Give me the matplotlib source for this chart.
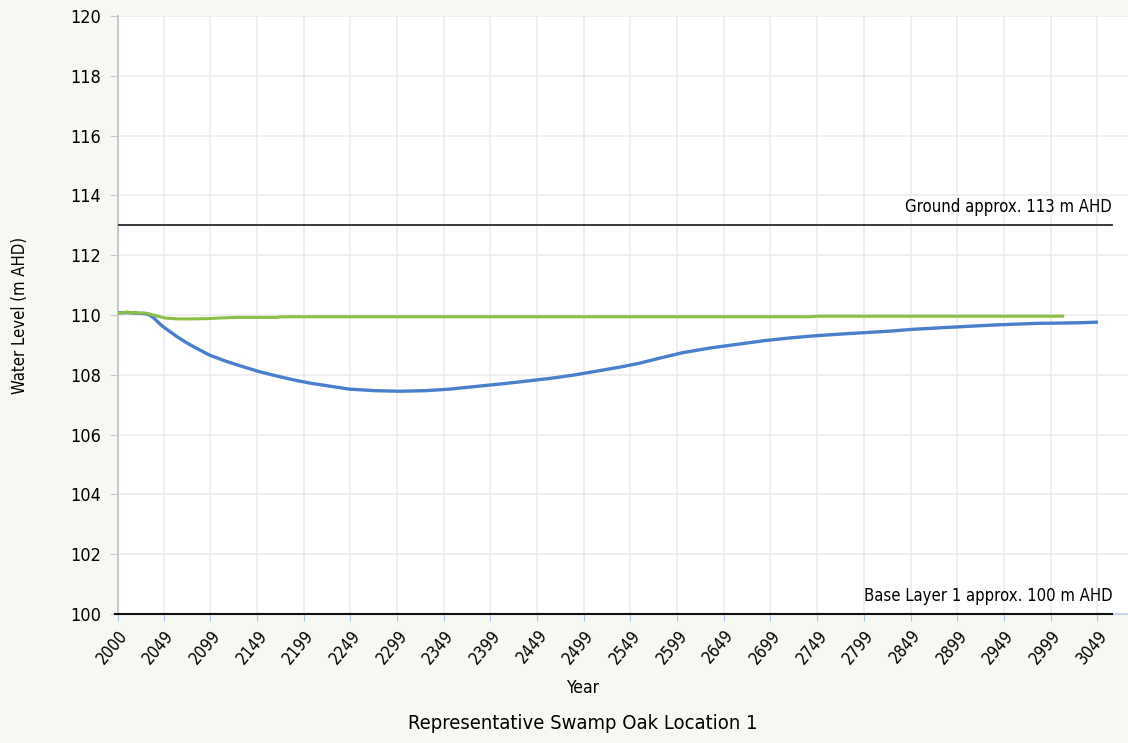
import numpy as np
import matplotlib
matplotlib.use("Agg")
import matplotlib.pyplot as plt

plt.rcParams['font.family'] = ['DejaVu Sans']
plt.rcParams['font.stretch'] = 'condensed'

# blue series (Water level)
blue_year = [2000, 2010, 2020, 2030, 2034, 2038, 2042, 2046, 2050, 2055, 2063, 2072, 2081, 2098, 2116, 2134,
             2152, 2170, 2188, 2206, 2227, 2248, 2275, 2302, 2330, 2355, 2380, 2409,
             2435, 2463, 2490, 2516, 2540, 2559, 2582, 2605, 2635, 2666, 2692, 2719,
             2745, 2773, 2800, 2827, 2851, 2880, 2910, 2935, 2958, 2985, 3010, 3030, 3048]
blue_level = [110.07, 110.08, 110.06, 110.04, 110.0, 109.91, 109.79, 109.67, 109.57, 109.46, 109.28, 109.1, 108.94,
              108.66, 108.45, 108.27,
              108.10, 107.96, 107.83, 107.72, 107.62, 107.52, 107.47, 107.45, 107.47, 107.52, 107.60, 107.69,
              107.78, 107.88, 108.00, 108.14, 108.27, 108.39, 108.57, 108.74, 108.90, 109.03, 109.14, 109.23,
              109.30, 109.36, 109.41, 109.46, 109.52, 109.57, 109.62, 109.66, 109.69, 109.72, 109.73, 109.74, 109.76]

# green series
green_year = [2000, 2005, 2010, 2014, 2018, 2022, 2027, 2032, 2040, 2050, 2063, 2080,
              2098, 2110, 2127, 2170, 2175, 2300, 2500, 2740, 2750, 3012]
green_level = [110.05, 110.08, 110.10, 110.07, 110.09, 110.06, 110.07, 110.05, 109.98, 109.90, 109.87, 109.87,
               109.88, 109.90, 109.92, 109.92, 109.94, 109.94, 109.94, 109.94, 109.96, 109.96]

xtick_years = [2000] + list(range(2049, 3050, 50))
ground = 113
base = 100

fig = plt.figure(figsize=(11.28, 7.43), dpi=100)
fig.patch.set_facecolor("#f8f8f3")
ax = fig.add_axes([0.1046, 0.1736, 0.8954, 0.8049])
ax.set_facecolor("white")

ax.set_xlim(2000, 3082)
ax.set_ylim(100, 120)
ax.set_yticks(range(100, 121, 2))
ax.set_xticks(xtick_years)
ax.set_xticklabels([str(y) for y in xtick_years], rotation=50, ha="right", va="top",
                   rotation_mode="anchor", fontsize=12)
ax.tick_params(axis="y", labelsize=13, length=6, color="#c8c8c8", pad=6)
ax.tick_params(axis="x", length=5, color="#a9c4e8", pad=4)
ax.grid(True, color="#ececec", lw=1.2)
ax.set_axisbelow(True)

for s in ["top", "right"]:
    ax.spines[s].set_visible(False)
ax.spines["left"].set_color("#c8c8c8")
ax.spines["left"].set_linewidth(1.5)
ax.spines["bottom"].set_color("#c5d6ee")
ax.spines["bottom"].set_linewidth(1.5)

ax.plot(blue_year, blue_level, c="#4a7fcc", lw=2.4, zorder=3)
ax.plot(green_year, green_level, c="#8cbf45", lw=2.2, zorder=4)

ax.plot([2000, 3065], [ground, ground], c="#2a2a2a", lw=1.3, zorder=5)
ax.plot([1997, 3065], [base, base], c="#111111", lw=1.5, zorder=5, clip_on=False)
ax.text(3065, ground + 0.3, "Ground approx. 113 m AHD", ha="right", va="bottom", fontsize=12)
ax.text(3065, base + 0.3, "Base Layer 1 approx. 100 m AHD", ha="right", va="bottom", fontsize=12)

ax.set_ylabel("Water Level (m AHD)", fontsize=12, labelpad=30)
fig.text(0.516, 0.074, "Year", ha="center", va="center", fontsize=12.5)
fig.text(0.517, 0.026, "Representative Swamp Oak Location 1", ha="center", va="center", fontsize=14.5)

fig.savefig("out.png", dpi=100, facecolor=fig.get_facecolor())
